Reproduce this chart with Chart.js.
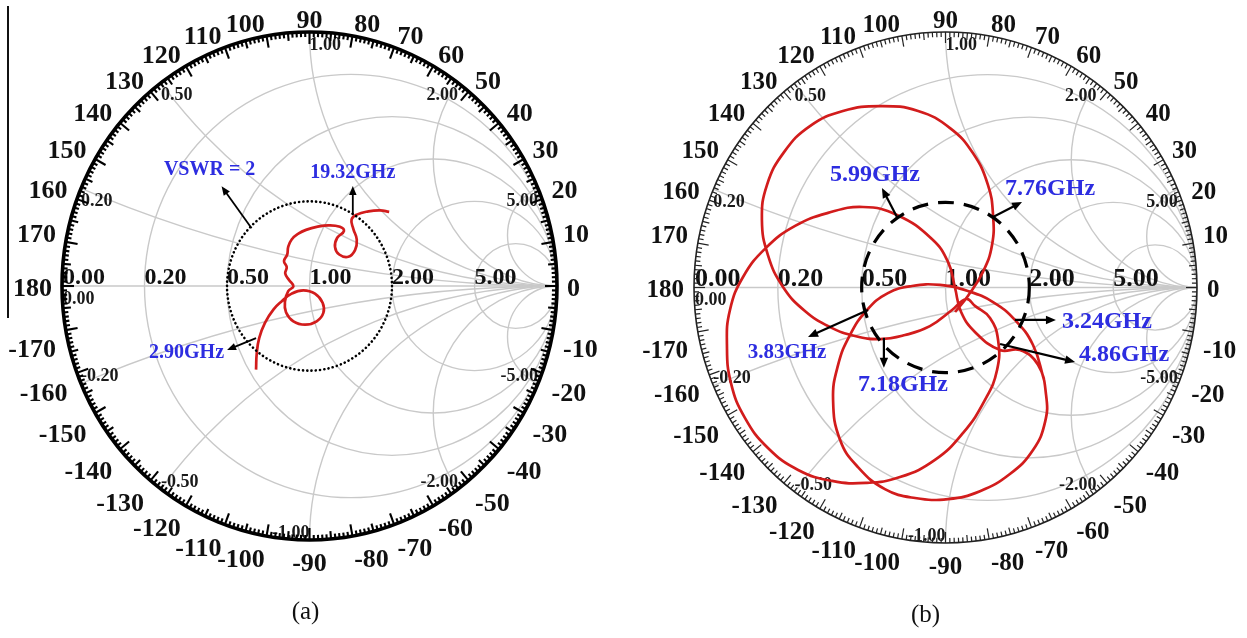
<!DOCTYPE html>
<html>
<head>
<meta charset="utf-8">
<script src="https://cdn.jsdelivr.net/npm/chart.js@4.4.1/dist/chart.umd.min.js"></script>
<style>
  html, body { margin: 0; padding: 0; background: #ffffff; }
  #page { position: relative; width: 1247px; height: 638px; overflow: hidden; background: #fff; }
  #page canvas { position: absolute; top: 0; }
  #chartA { left: 0; }
  #chartB { left: 623px; }
  .edge { position: absolute; left: 7px; top: 6px; width: 2px; height: 312px; background: #111; }
</style>
</head>
<body>
<div id="page">
  <div class="edge"></div>
  <canvas id="chartA" width="623" height="638"></canvas>
  <canvas id="chartB" width="624" height="638"></canvas>
</div>
<script>
// ---------- Smith chart grid ----------
const resistanceCircles = [0.2, 0.5, 1, 2, 5];
const reactanceArcs = [0.2, 0.5, 1, 2, 5];
const resistanceTickValues = [0, 0.2, 0.5, 1, 2, 5];
const resistanceTickLabels = ['0.00', '0.20', '0.50', '1.00', '2.00', '5.00'];
const reactanceTickLabels = ['0.20', '0.50', '1.00', '2.00', '5.00'];
const angleTickLabels = [180, 170, 160, 150, 140, 130, 120, 110, 100, 90, 80, 70, 60, 50, 40, 30, 20, 10, 0,
  -10, -20, -30, -40, -50, -60, -70, -80, -90, -100, -110, -120, -130, -140, -150, -160, -170];
const vswrLevel = 2;

// ---------- (a) reflection coefficient, real / imaginary part ----------
const traceA_re = [-0.216, -0.213, -0.203, -0.180, -0.146, -0.112, -0.072, -0.025, 0.022, 0.053, 0.056, 0.029,
  -0.018, -0.065, -0.095, -0.099, -0.086, -0.065, -0.082, -0.098, -0.092, -0.103, -0.090, -0.086, -0.072, -0.045,
  -0.011, 0.029, 0.076, 0.123, 0.139, 0.112, 0.103, 0.120, 0.157, 0.184, 0.191, 0.177, 0.170, 0.191, 0.238, 0.285, 0.322];
const traceA_im = [-0.329, -0.263, -0.204, -0.145, -0.093, -0.060, -0.030, -0.017, -0.030, -0.066, -0.106, -0.139,
  -0.152, -0.139, -0.103, -0.060, -0.020, -0.001, 0.023, 0.049, 0.074, 0.098, 0.124, 0.154, 0.183, 0.206,
  0.222, 0.233, 0.239, 0.233, 0.216, 0.190, 0.154, 0.124, 0.115, 0.141, 0.183, 0.225, 0.262, 0.281, 0.294, 0.298, 0.292];
const markerA_text = ['VSWR = 2', '19.32GHz', '2.90GHz'];
const markerA_re = [-0.234, 0.175, -0.216];
const markerA_im = [0.227, 0.280, -0.205];

// ---------- (b) reflection coefficient, real / imaginary part ----------
const traceB_re = [0.392, 0.348, 0.276, 0.189, 0.089, -0.022, -0.133, -0.229, -0.312, -0.380, -0.427, -0.447,
  -0.419, -0.348, -0.241, -0.121, 0.010, 0.137, 0.256, 0.348, 0.396, 0.400, 0.368, 0.296,
  0.217, 0.117, 0.062, 0.038, 0.010, -0.054, -0.193, -0.328, -0.467, -0.598, -0.714, -0.805, -0.857, -0.869, -0.853,
  -0.797, -0.706, -0.586, -0.451, -0.316, -0.181, -0.042, 0.070, 0.157, 0.205, 0.209,
  0.177, 0.117, 0.082, 0.026, -0.062, -0.161, -0.260,
  -0.360, -0.459, -0.559, -0.646, -0.706, -0.730, -0.710, -0.642, -0.539, -0.408, -0.260, -0.109, 0.018, 0.109,
  0.169, 0.189, 0.185, 0.149, 0.089, 0.038];
const traceB_im = [-0.362, -0.225, -0.127, -0.057, -0.014, 0.010, 0.006, -0.022, -0.088, -0.186, -0.303, -0.440,
  -0.597, -0.703, -0.789, -0.824, -0.828, -0.797, -0.730, -0.636, -0.526, -0.421, -0.303, -0.245,
  -0.245, -0.174, -0.096, -0.002, 0.100, 0.190, 0.284, 0.315, 0.292, 0.241, 0.155, 0.041, -0.088, -0.225, -0.374,
  -0.511, -0.628, -0.714, -0.757, -0.765, -0.742, -0.675, -0.569, -0.440, -0.323, -0.205,
  -0.119, -0.072, -0.045, -0.088, -0.151, -0.186, -0.202,
  -0.190, -0.155, -0.092, 0.002, 0.127, 0.264, 0.401, 0.530, 0.632, 0.691, 0.710, 0.691, 0.624, 0.526,
  0.401, 0.284, 0.166, 0.061, -0.033, -0.096];
const markerB_text = ['3.24GHz', '3.83GHz', '4.86GHz', '5.99GHz', '7.18GHz', '7.76GHz'];
const markerB_re = [0.276, -0.308, 0.217, -0.193, -0.245, 0.189];
const markerB_im = [-0.127, -0.088, -0.221, 0.276, -0.197, 0.276];

// ---------- callout layout (arrow tip offset, label offset from tip) ----------
const calloutsA = [
  { tip: [-30, -42], label: [-12, -17], align: 'center', size: 20 },
  { tip: [0, -29], label: [0, -13], align: 'center', size: 20 },
  { tip: [-29, 12], label: [-3, 3], align: 'right', size: 20 }
];
const calloutsB = [
  { tip: [41, 0], label: [6, 2], align: 'left', size: 24 },
  { tip: [-60, 27], label: [-21, 16], align: 'center', size: 21 },
  { tip: [75, 18], label: [4, -7], align: 'left', size: 24 },
  { tip: [-15, -29], label: [-7, -13], align: 'center', size: 24 },
  { tip: [0, 30], label: [19, 17], align: 'center', size: 24 },
  { tip: [29, -15], label: [28, -13], align: 'center', size: 24 }
];

const SERIF = '"Liberation Serif", "Times New Roman", serif';
const TRACE_RED = '#d21c1c';
const LABEL_BLUE = '#2d2de0';

function geom(chart) {
  const xs = chart.scales.x, ys = chart.scales.y;
  const cx = xs.getPixelForValue(0), cy = ys.getPixelForValue(0);
  return {
    cx, cy,
    rx: xs.getPixelForValue(1) - cx,
    ry: cy - ys.getPixelForValue(1),
    at: (re, im) => [xs.getPixelForValue(re), ys.getPixelForValue(im)]
  };
}

function drawArrow(ctx, x0, y0, x1, y1, head, width) {
  const a = Math.atan2(y1 - y0, x1 - x0), ca = Math.cos(a), sa = Math.sin(a);
  ctx.lineWidth = width;
  ctx.beginPath();
  ctx.moveTo(x0, y0);
  ctx.lineTo(x1 - ca * head * 0.7, y1 - sa * head * 0.7);
  ctx.stroke();
  ctx.beginPath();
  ctx.moveTo(x1, y1);
  ctx.lineTo(x1 - head * ca + head * 0.42 * sa, y1 - head * sa - head * 0.42 * ca);
  ctx.lineTo(x1 - head * ca - head * 0.42 * sa, y1 - head * sa + head * 0.42 * ca);
  ctx.closePath();
  ctx.fill();
}

const smithPlugin = {
  id: 'smith',
  beforeDatasetsDraw(chart, args, o) {
    const ctx = chart.ctx, g = geom(chart);
    // grid, clipped to the unit circle
    ctx.save();
    ctx.beginPath();
    ctx.ellipse(g.cx, g.cy, g.rx, g.ry, 0, 0, Math.PI * 2);
    ctx.clip();
    ctx.strokeStyle = '#c9c9c9';
    ctx.lineWidth = 1.4;
    resistanceCircles.forEach(r => {
      const c = r / (1 + r), rad = 1 / (1 + r);
      ctx.beginPath();
      ctx.ellipse(g.cx + c * g.rx, g.cy, rad * g.rx, rad * g.ry, 0, 0, Math.PI * 2);
      ctx.stroke();
    });
    reactanceArcs.forEach(x => [x, -x].forEach(v => {
      const rad = 1 / Math.abs(v);
      ctx.beginPath();
      ctx.ellipse(g.cx + g.rx, g.cy - g.ry / v, rad * g.rx, rad * g.ry, 0, 0, Math.PI * 2);
      ctx.stroke();
    }));
    ctx.beginPath();
    ctx.moveTo(g.cx - g.rx, g.cy);
    ctx.lineTo(g.cx + g.rx, g.cy);
    ctx.stroke();
    ctx.restore();

    // resistance values along the real axis
    ctx.save();
    ctx.fillStyle = '#111';
    ctx.textBaseline = 'middle';
    ctx.textAlign = 'left';
    ctx.font = 'bold ' + o.axisFont + 'px ' + SERIF;
    resistanceTickValues.forEach((r, i) => {
      const [px, py] = g.at((r - 1) / (r + 1), 0);
      ctx.fillText(resistanceTickLabels[i], px + (i === 0 ? 1 : 0), py - 8);
    });
    // reactance values on the rim
    ctx.font = 'bold ' + o.rimFont + 'px ' + SERIF;
    ctx.fillStyle = '#1a1a1a';
    const drawRim = (txt, v) => {
      const d = v * v + 1;
      const re = (v * v - 1) / d, im = 2 * v / d;
      const [px, py] = g.at(re, im);
      if (v > 0) {
        ctx.textAlign = re < -0.01 || Math.abs(re) <= 0.01 ? 'left' : 'right';
        ctx.fillText(txt, px, py + 13);
      } else {
        ctx.textAlign = re < -0.01 ? 'left' : 'right';
        ctx.fillText(txt, px, py - 7);
      }
    };
    reactanceTickLabels.forEach((t, i) => {
      drawRim(t, reactanceArcs[i]);
      drawRim('-' + t, -reactanceArcs[i]);
    });
    ctx.textAlign = 'left';
    ctx.fillText('0.00', g.cx - g.rx + 1, g.cy + 13);
    ctx.restore();
  },
  afterDatasetsDraw(chart, args, o) {
    const ctx = chart.ctx, g = geom(chart);
    ctx.save();

    // constant VSWR circle
    const rho = (vswrLevel - 1) / (vswrLevel + 1);
    ctx.strokeStyle = '#000';
    ctx.lineWidth = o.vswrWidth;
    ctx.setLineDash(o.vswrDash);
    ctx.lineCap = o.vswrCap;
    ctx.beginPath();
    ctx.ellipse(g.cx, g.cy, rho * g.rx, rho * g.ry, 0, 0, Math.PI * 2);
    ctx.stroke();
    ctx.setLineDash([]);
    ctx.lineCap = 'butt';

    // rim and angle ticks
    ctx.strokeStyle = o.rimColor;
    ctx.lineWidth = o.rimWidth;
    ctx.beginPath();
    ctx.ellipse(g.cx, g.cy, g.rx, g.ry, 0, 0, Math.PI * 2);
    ctx.stroke();
    ctx.lineWidth = o.tickWidth;
    for (let d = 0; d < 360; d++) {
      const t = d * Math.PI / 180, c = Math.cos(t), s = Math.sin(t);
      const len = d % 10 === 0 ? o.tickLen[2] : (d % 5 === 0 ? o.tickLen[1] : o.tickLen[0]);
      ctx.beginPath();
      ctx.moveTo(g.cx + c * g.rx, g.cy - s * g.ry);
      ctx.lineTo(g.cx + c * (g.rx - len), g.cy - s * (g.ry - len));
      ctx.stroke();
    }

    // angle labels
    ctx.fillStyle = '#111';
    ctx.font = 'bold ' + o.angleFont + 'px ' + SERIF;
    const capH = o.angleFont * 0.66;
    angleTickLabels.forEach(a => {
      const t = a * Math.PI / 180, c = Math.cos(t), s = Math.sin(t);
      const ax = g.cx + c * (g.rx + 10), ay = g.cy - s * (g.ry + 5);
      ctx.textAlign = Math.abs(c) < 0.05 ? 'center' : (c < 0 ? 'right' : 'left');
      if (Math.abs(s) < 0.05) {
        ctx.textBaseline = 'middle';
        ctx.fillText(String(a), ax, ay + 3);
      } else {
        ctx.textBaseline = 'alphabetic';
        ctx.fillText(String(a), ax, s > 0 ? ay + 1 : ay + capH + 9);
      }
    });

    // frequency call-outs
    o.callouts.forEach((cfg, i) => {
      const [bx, by] = g.at(o.markRe[i], o.markIm[i]);
      const tx = bx + cfg.tip[0], ty = by + cfg.tip[1];
      ctx.strokeStyle = '#000';
      ctx.fillStyle = '#000';
      drawArrow(ctx, bx, by, tx, ty, o.headLen, o.arrowWidth);
      ctx.fillStyle = LABEL_BLUE;
      ctx.font = 'bold ' + cfg.size + 'px ' + SERIF;
      ctx.textAlign = cfg.align;
      ctx.textBaseline = 'middle';
      ctx.fillText(o.markText[i], tx + cfg.label[0], ty + cfg.label[1]);
    });

    // panel caption
    ctx.fillStyle = '#111';
    ctx.font = '25px ' + SERIF;
    ctx.textAlign = 'center';
    ctx.textBaseline = 'middle';
    ctx.fillText(o.caption, g.cx + o.captionDx, g.cy + g.ry + 72);
    ctx.restore();
  }
};

function makeSmith(canvasId, re, im, padding, extra) {
  const points = re.map((v, i) => ({ x: v, y: im[i] }));
  return new Chart(document.getElementById(canvasId), {
    type: 'scatter',
    data: {
      datasets: [{
        data: points,
        showLine: true,
        borderColor: TRACE_RED,
        borderWidth: 2.7,
        pointRadius: 0,
        tension: 0.45,
        fill: false
      }]
    },
    options: {
      responsive: false,
      animation: false,
      events: [],
      layout: { padding },
      scales: {
        x: { type: 'linear', min: -1, max: 1, display: false },
        y: { type: 'linear', min: -1, max: 1, display: false }
      },
      plugins: {
        legend: { display: false },
        tooltip: { enabled: false },
        smith: extra
      }
    },
    plugins: [smithPlugin]
  });
}

makeSmith('chartA', traceA_re, traceA_im, { left: 62, right: 66, top: 32, bottom: 98 }, {
  axisFont: 24, rimFont: 18, angleFont: 26,
  rimColor: '#000', rimWidth: 3.6, tickWidth: 2.1, tickLen: [5, 8, 12],
  vswrWidth: 2.6, vswrDash: [0.1, 4.2], vswrCap: 'round',
  markText: markerA_text, markRe: markerA_re, markIm: markerA_im, callouts: calloutsA,
  headLen: 9, arrowWidth: 1.8, caption: '(a)', captionDx: -4
});

makeSmith('chartB', traceB_re, traceB_im, { left: 71, right: 50, top: 32, bottom: 95 }, {
  axisFont: 26, rimFont: 18, angleFont: 25,
  rimColor: '#222', rimWidth: 1.6, tickWidth: 1.2, tickLen: [5, 7, 11],
  vswrWidth: 3.2, vswrDash: [16, 10], vswrCap: 'butt',
  markText: markerB_text, markRe: markerB_re, markIm: markerB_im, callouts: calloutsB,
  headLen: 10, arrowWidth: 2.2, caption: '(b)', captionDx: -20
});
</script>
</body>
</html>
